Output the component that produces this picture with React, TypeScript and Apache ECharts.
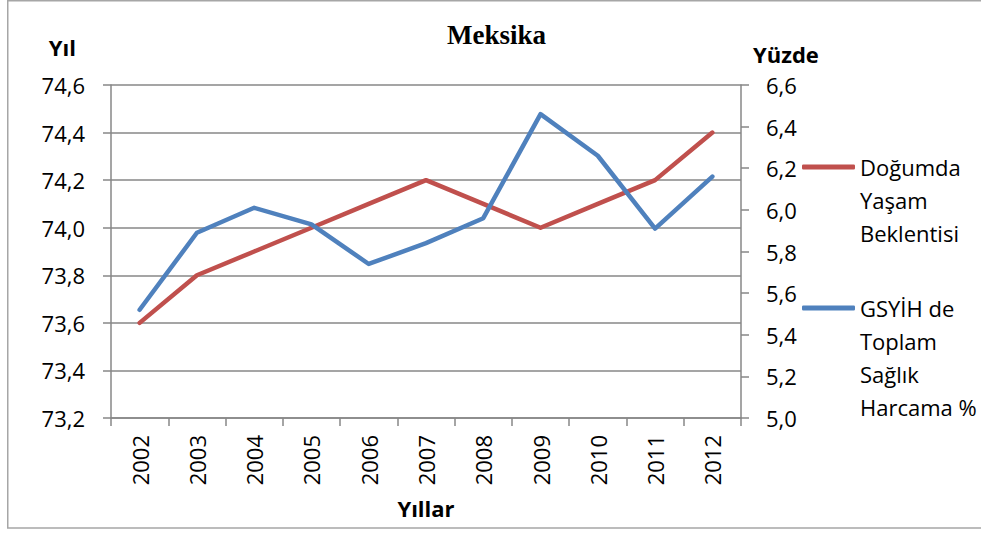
import React, { useEffect, useRef } from 'react';
import * as echarts from 'echarts';

const years = ['2002', '2003', '2004', '2005', '2006', '2007', '2008', '2009', '2010', '2011', '2012'];
const lifeExpectancy = [73.6, 73.8, 73.9, 74.0, 74.1, 74.2, 74.1, 74.0, 74.1, 74.2, 74.4];
const healthSpending = [5.52, 5.89, 6.01, 5.93, 5.74, 5.84, 5.96, 6.46, 6.26, 5.91, 6.16];
const seriesNames = ['Doğumda Yaşam Beklentisi', 'GSYİH de Toplam Sağlık Harcama %'];
const legendLines: Record<string, string[]> = {
  'Doğumda Yaşam Beklentisi': ['Doğumda', 'Yaşam', 'Beklentisi'],
  'GSYİH de Toplam Sağlık Harcama %': ['GSYİH de', 'Toplam', 'Sağlık', 'Harcama %'],
};
const titleText = 'Meksika';
const leftAxisName = 'Yıl';
const rightAxisName = 'Yüzde';
const xAxisName = 'Yıllar';

const FONT = "'Open Sans', sans-serif";
const GRAY = '#878787';
const RED = '#C0504D';
const BLUE = '#4F81BD';
const fmt = (v: number) => v.toFixed(1).replace('.', ',');
// Put the first line of the wrapped legend label level with the legend icon
const legendFormatter = (n: string) => {
  const lines = legendLines[n];
  return new Array(lines.length - 1).fill('').concat(lines).join('\n');
};

export default function App() {
  const ref = useRef<HTMLDivElement>(null);
  useEffect(() => {
    document.body.style.margin = '0';
    const chart = echarts.init(ref.current!, null, { renderer: 'svg' });
    const LH = 33;
    const legendBase = {
      orient: 'vertical',
      left: 802,
      padding: 0,
      itemWidth: 53,
      itemHeight: 5,
      itemGap: 0,
      icon: 'roundRect',
      formatter: legendFormatter,
      textStyle: { fontFamily: FONT, fontSize: 22, color: '#000', lineHeight: LH },
    };
    chart.setOption({
      animation: false,
      backgroundColor: '#fff',
      textStyle: { fontFamily: FONT },
      title: {
        text: titleText,
        left: 447,
        top: 21,
        padding: 0,
        textStyle: { fontFamily: "'Liberation Serif', 'Times New Roman', serif", fontWeight: 'bold', fontSize: 27, color: '#000' },
      },
      graphic: [
        {
          type: 'polyline',
          shape: { points: [[990, 0.75], [7.75, 0.75], [7.75, 528], [990, 528]] },
          style: { fill: 'none', stroke: '#a6a6a6', lineWidth: 1.5 },
          silent: true,
          z: -1,
        },
      ],
      legend: [
        { ...legendBase, data: [seriesNames[0]], top: 167 - (5 * LH) / 2 },
        { ...legendBase, data: [seriesNames[1]], top: 308 - (7 * LH) / 2 },
      ],
      grid: { left: 111, right: 240, top: 85, bottom: 117, containLabel: false },
      xAxis: {
        type: 'category',
        data: years,
        boundaryGap: true,
        name: xAxisName,
        nameLocation: 'middle',
        nameGap: 79,
        nameTextStyle: { fontFamily: FONT, fontSize: 22, fontWeight: 'bold', color: '#000' },
        axisLine: { lineStyle: { color: GRAY, width: 1.5 } },
        axisTick: { show: true, length: 8, lineStyle: { color: GRAY, width: 1.5 } },
        axisLabel: { rotate: 90, margin: 17, fontFamily: FONT, fontSize: 22, color: '#000' },
        splitLine: { show: false },
      },
      yAxis: [
        {
          type: 'value',
          min: 73.2,
          max: 74.6,
          interval: 0.2,
          position: 'left',
          name: leftAxisName,
          nameLocation: 'end',
          nameGap: 27,
          nameTextStyle: { fontFamily: FONT, fontSize: 22, fontWeight: 'bold', color: '#000', align: 'right', verticalAlign: 'bottom', padding: [0, 35, 0, 0] },
          axisLine: { show: true, lineStyle: { color: GRAY, width: 1.5 } },
          axisTick: { show: true, length: 8, lineStyle: { color: GRAY, width: 1.5 } },
          axisLabel: { margin: 26, fontFamily: FONT, fontSize: 22, color: '#000', formatter: fmt },
          splitLine: { show: true, lineStyle: { color: GRAY, width: 1.5 } },
        },
        {
          type: 'value',
          min: 5.0,
          max: 6.6,
          interval: 0.2,
          position: 'right',
          name: rightAxisName,
          nameLocation: 'end',
          nameGap: 20,
          nameTextStyle: { fontFamily: FONT, fontSize: 22, fontWeight: 'bold', color: '#000', align: 'left', verticalAlign: 'bottom', padding: [0, 0, 0, 12] },
          axisLine: { show: true, lineStyle: { color: GRAY, width: 1.5 } },
          axisTick: { show: true, length: 8, lineStyle: { color: GRAY, width: 1.5 } },
          axisLabel: { margin: 25, fontFamily: FONT, fontSize: 22, color: '#000', formatter: fmt },
          splitLine: { show: false },
        },
      ],
      series: [
        {
          name: seriesNames[0],
          type: 'line',
          yAxisIndex: 0,
          data: lifeExpectancy,
          symbol: 'none',
          color: RED,
          lineStyle: { color: RED, width: 4.5, cap: 'round', join: 'round' },
        },
        {
          name: seriesNames[1],
          type: 'line',
          yAxisIndex: 1,
          data: healthSpending,
          symbol: 'none',
          color: BLUE,
          lineStyle: { color: BLUE, width: 4.5, cap: 'round', join: 'round' },
        },
      ],
    });
    return () => chart.dispose();
  }, []);
  return <div ref={ref} style={{ width: 981, height: 535 }} />;
}
